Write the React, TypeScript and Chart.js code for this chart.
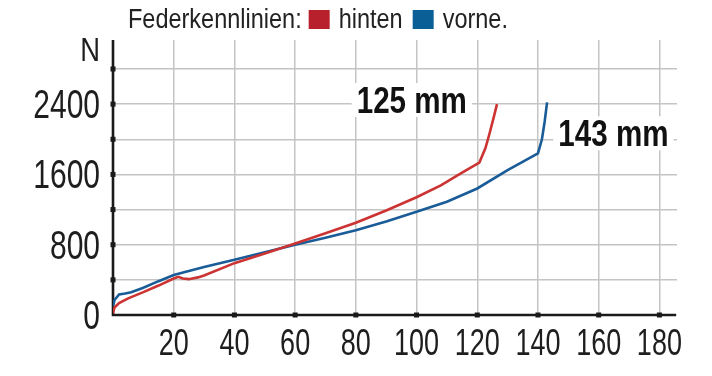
import React, { useEffect, useRef } from "react";
import { Chart, registerables } from "chart.js";

Chart.register(...registerables);

// ---- data ----
const seriesNames = ["hinten", "vorne."];
const legendTitle = "Federkennlinien:";
const yUnitLabel = "N";

const hintenX = [0, 0.5, 2, 5, 10, 15, 20, 21.5, 23, 25, 28, 30, 40, 50, 60, 70, 80, 90, 100, 108, 115, 120.7, 122.7, 124, 125.5, 126.5];
const hintenY = [20, 85, 135, 190, 260, 335, 415, 435, 415, 408, 428, 450, 590, 700, 815, 930, 1050, 1190, 1340, 1475, 1620, 1735, 1900, 2060, 2260, 2400];

const vorneX = [0, 0.5, 2, 4, 6, 10, 15, 20, 30, 40, 50, 60, 70, 80, 90, 100, 110, 120, 130, 140, 141.3, 142.2, 143];
const vorneY = [100, 170, 235, 245, 258, 310, 385, 455, 545, 630, 715, 800, 880, 965, 1065, 1175, 1290, 1440, 1650, 1840, 2000, 2200, 2420];

const xTickValues = [0, 20, 40, 60, 80, 100, 120, 140, 160, 180];
const xLabelValues = [20, 40, 60, 80, 100, 120, 140, 160, 180];
const yTickValues = [0, 400, 800, 1200, 1600, 2000, 2400, 2800];
const yLabelValues = [0, 800, 1600, 2400];

const annotationTexts = ["125 mm", "143 mm"];

// ---- styling / layout (not data) ----
const RED = "#cc3333";
const BLUE = "#195c98";
const RED_SQ = "#b8212b";
const BLUE_SQ = "#0b5f97";
const TEXT = "#1e1e1e";
const FONT = "'Liberation Sans', Arial, sans-serif";
const X_MAX = 185.8;
const Y_MAX = 3130;
// annotation anchors: [xValue, yValue(baseline), align]
const annotationAnchors: [number, number, CanvasTextAlign][] = [
  [116.6, 2300, "right"],
  [146.7, 1920, "left"],
];

function drawText(
  ctx: CanvasRenderingContext2D,
  text: string,
  x: number,
  y: number,
  font: string,
  sx: number,
  align: CanvasTextAlign,
  baseline: CanvasTextBaseline,
  color: string
) {
  ctx.save();
  ctx.font = font;
  ctx.textAlign = align;
  ctx.textBaseline = baseline;
  ctx.fillStyle = color;
  ctx.translate(x, y);
  ctx.scale(sx, 1);
  ctx.fillText(text, 0, 0);
  ctx.restore();
}

function textWidth(ctx: CanvasRenderingContext2D, text: string, font: string, sx: number) {
  ctx.save();
  ctx.font = font;
  const w = ctx.measureText(text).width * sx;
  ctx.restore();
  return w;
}

const decorPlugin = {
  id: "decor",
  beforeDatasetsDraw(chart: any) {
    const { ctx, chartArea, scales } = chart;
    const xs = scales.x;
    const ys = scales.y;
    const x0 = xs.getPixelForValue(0);
    const y0 = ys.getPixelForValue(0);
    ctx.save();
    ctx.strokeStyle = "#1a1a1a";
    ctx.lineWidth = 2.6;
    ctx.beginPath();
    ctx.moveTo(x0, chartArea.top);
    ctx.lineTo(x0, y0);
    ctx.lineTo(chartArea.right - 1, y0);
    ctx.stroke();
    ctx.fillStyle = "#1a1a1a";
    const s = 5;
    xTickValues.slice(1).forEach((v) => {
      const px = xs.getPixelForValue(v);
      ctx.fillRect(px - s / 2, y0 - s / 2, s, s);
    });
    yTickValues.slice(1).forEach((v) => {
      const py = ys.getPixelForValue(v);
      ctx.fillRect(x0 - s / 2, py - s / 2, s, s);
    });
    ctx.restore();

    // tick labels (condensed)
    const yFont = `40px ${FONT}`;
    yLabelValues.forEach((v) => {
      drawText(ctx, String(v), x0 - 13, ys.getPixelForValue(v) + 14, yFont, 0.75, "right", "alphabetic", TEXT);
    });
    const xFont = `37.5px ${FONT}`;
    xLabelValues.forEach((v) => {
      drawText(ctx, String(v), xs.getPixelForValue(v), y0 + 40, xFont, 0.72, "center", "alphabetic", TEXT);
    });
    // unit label
    drawText(ctx, yUnitLabel, x0 - 13, ys.getPixelForValue(2890), `33px ${FONT}`, 0.83, "right", "alphabetic", TEXT);
  },
  afterDraw(chart: any) {
    const { ctx, scales } = chart;
    const xs = scales.x;
    const ys = scales.y;
    // annotations
    const aFont = `bold 37px ${FONT}`;
    const aSx = 0.8;
    annotationTexts.forEach((t, i) => {
      const [ax, ay, al] = annotationAnchors[i];
      const px = xs.getPixelForValue(ax);
      const py = ys.getPixelForValue(ay);
      const w = textWidth(ctx, t, aFont, aSx);
      const left = al === "right" ? px - w : px;
      ctx.save();
      ctx.fillStyle = "#ffffff";
      ctx.fillRect(left - 5, py - 30, w + 10, 34);
      ctx.restore();
      drawText(ctx, t, px, py, aFont, aSx, al, "alphabetic", "#111111");
    });
    // legend
    const lFont = `27px ${FONT}`;
    const lSx = 0.87;
    const base = 28;
    let x = 128;
    drawText(ctx, legendTitle, x, base, lFont, lSx, "left", "alphabetic", "#222222");
    x += textWidth(ctx, legendTitle, lFont, lSx) + 7;
    const sqColors = [RED_SQ, BLUE_SQ];
    seriesNames.forEach((n, i) => {
      ctx.save();
      ctx.fillStyle = sqColors[i];
      ctx.fillRect(x, 10, 21, 19);
      ctx.restore();
      x += 21 + 9;
      drawText(ctx, n, x, base, lFont, lSx, "left", "alphabetic", "#222222");
      x += textWidth(ctx, n, lFont, lSx) + 10;
    });
  },
};

export default function App() {
  const ref = useRef<HTMLCanvasElement | null>(null);
  useEffect(() => {
    if (!ref.current) return;
    const toPts = (xs: number[], ys: number[]) => xs.map((x, i) => ({ x, y: ys[i] }));
    const chart = new Chart(ref.current, {
      type: "scatter",
      data: {
        datasets: [
          {
            label: seriesNames[0],
            data: toPts(hintenX, hintenY),
            showLine: true,
            borderColor: RED,
            backgroundColor: RED,
            borderWidth: 2.6,
            pointRadius: 0,
            tension: 0,
          },
          {
            label: seriesNames[1],
            data: toPts(vorneX, vorneY),
            showLine: true,
            borderColor: BLUE,
            backgroundColor: BLUE,
            borderWidth: 2.6,
            pointRadius: 0,
            tension: 0,
          },
        ],
      },
      options: {
        animation: false,
        responsive: true,
        maintainAspectRatio: false,
        layout: { padding: { top: 40, right: 35, left: 0, bottom: 0 } },
        plugins: { legend: { display: false }, tooltip: { enabled: false }, title: { display: false } },
        scales: {
          x: {
            type: "linear",
            min: 0,
            max: X_MAX,
            afterBuildTicks: (s: any) => {
              s.ticks = xTickValues.map((v) => ({ value: v }));
            },
            afterFit: (s: any) => {
              s.height = 61;
            },
            grid: { color: "#c4c4c4", lineWidth: 1.5, drawTicks: false },
            border: { display: false },
            ticks: { display: false },
          },
          y: {
            type: "linear",
            min: 0,
            max: Y_MAX,
            afterBuildTicks: (s: any) => {
              s.ticks = yTickValues.map((v) => ({ value: v }));
            },
            afterFit: (s: any) => {
              s.width = 113;
            },
            grid: { color: "#c4c4c4", lineWidth: 1.5, drawTicks: false },
            border: { display: false },
            ticks: { display: false },
          },
        },
      },
      plugins: [decorPlugin],
    });
    return () => chart.destroy();
  }, []);
  return (
    <div style={{ position: "absolute", left: 0, top: 0, width: 712, height: 376, background: "#fff" }}>
      <canvas ref={ref} />
    </div>
  );
}
